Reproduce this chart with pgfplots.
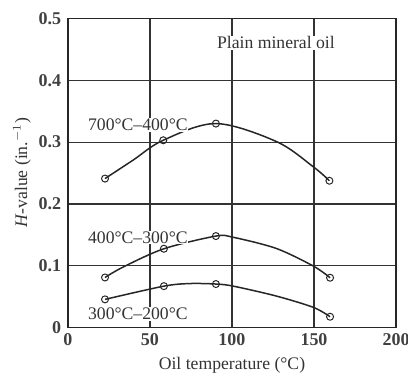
\documentclass[border=0pt]{standalone}
\usepackage{fontspec}
\setmainfont{Liberation Serif}
\usepackage{pgfplots}
\pgfplotsset{compat=1.18}
\begin{document}
\begin{tikzpicture}[font=\fontsize{10.6}{12}\selectfont]
\begin{axis}[
  width=197pt, height=185.6pt, scale only axis,
  xmin=0, xmax=200, ymin=0, ymax=0.5,
  xtick={0,50,100,150,200},
  ytick={0,0.1,0.2,0.3,0.4,0.5},
  yticklabels={0,0.1,0.2,0.3,0.4,0.5},
  xticklabels={0,50,100,150,200},
  grid=major,
  major grid style={black!80, line width=0.7pt},
  axis line style={black!85, line width=0.8pt},
  tick style={draw=none},
  ticklabel style={font=\fontsize{10.8}{12}\selectfont\bfseries, text=black!75},
  yticklabel style={xshift=-0.5pt},
  /pgf/number format/assume math mode=true,
  xlabel={Oil temperature (°C)},
  ylabel={\textit{H}-value (in.$^{-1}$)},
  label style={font=\fontsize{10.6}{12}\selectfont, text=black!80},
  xlabel style={at={(axis description cs:0.5,-0.121)}, anchor=center},
  ylabel style={at={(axis description cs:-0.14,0.5)}, anchor=center},
]
% curves
\addplot[black!85, line width=0.9pt, smooth, tension=0.55] coordinates {(22.6,0.241) (39.8,0.271) (58.1,0.303) (90.2,0.330) (127,0.301) (149.6,0.260) (159.4,0.2375)};
\addplot[black!85, line width=0.9pt, smooth, tension=0.5] coordinates {(22.6,0.081) (33.7,0.098) (58.5,0.1275) (90.2,0.148) (100.8,0.146) (127,0.128) (149.6,0.0995) (159.8,0.0806)};
\addplot[black!85, line width=0.9pt, smooth, tension=0.5] coordinates {(22.6,0.0456) (58.5,0.067) (74.4,0.0712) (90.2,0.0704) (100.8,0.067) (127,0.051) (149.6,0.0327) (159.8,0.0175)};
% measured points
\addplot[only marks, mark=o, mark size=2.1pt, mark options={black!85, fill=white, line width=0.6pt}] coordinates {(22.6,0.241) (58.1,0.303) (90.2,0.330) (159.4,0.2375)};
\addplot[only marks, mark=o, mark size=2.1pt, mark options={black!85, fill=white, line width=0.6pt}] coordinates {(22.6,0.081) (58.5,0.1275) (90.2,0.148) (159.8,0.0806)};
\addplot[only marks, mark=o, mark size=2.1pt, mark options={black!85, fill=white, line width=0.6pt}] coordinates {(22.6,0.0456) (58.5,0.067) (90.2,0.0704) (159.8,0.0175)};
\node[anchor=west, fill=white, inner sep=0.5pt, text=black!80] at (axis cs:11.6,0.3275) {700°C–400°C};
\node[anchor=west, fill=white, inner sep=0.5pt, text=black!80] at (axis cs:11.6,0.146) {400°C–300°C};
\node[anchor=west, fill=white, inner sep=0.5pt, text=black!80] at (axis cs:11.6,0.0218) {300°C–200°C};
\node[fill=white, inner sep=0.5pt, text=black!80] at (axis cs:126.8,0.461) {Plain mineral oil};
\end{axis}
\pgfresetboundingbox
\path (current axis.south west) ++(-40.8pt,-28.5pt) coordinate (bl);
\path (current axis.north east) ++(7.2pt,11.1pt) coordinate (tr);
\useasboundingbox (bl) rectangle (tr);
\end{tikzpicture}
\end{document}
